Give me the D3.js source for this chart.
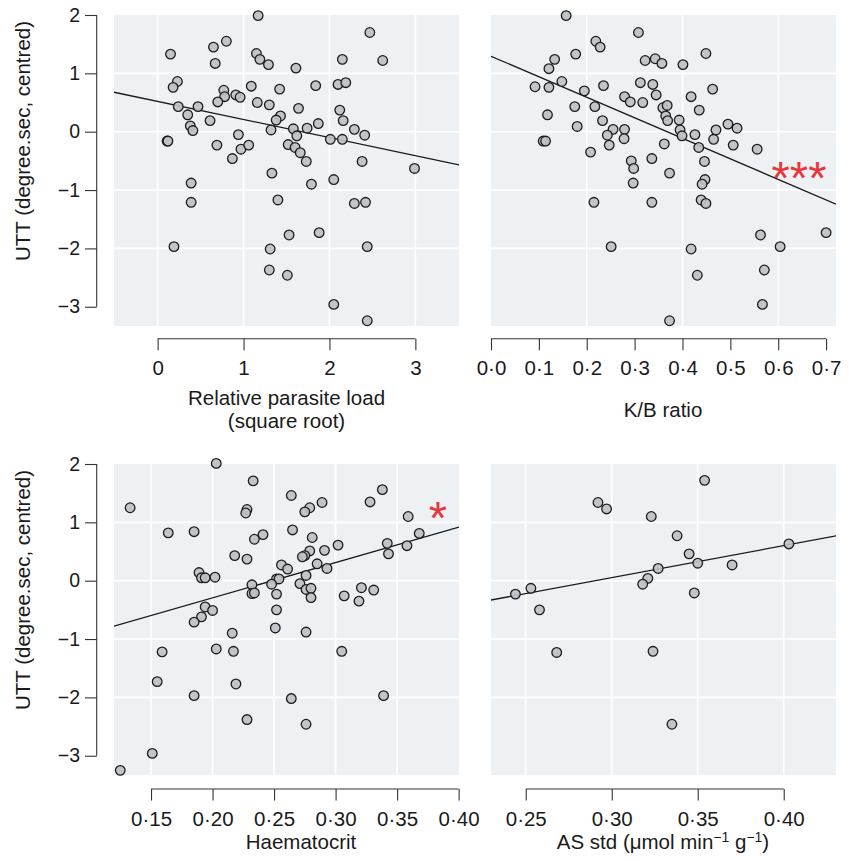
<!DOCTYPE html>
<html>
<head>
<meta charset="UTF-8">
<script src="https://cdn.jsdelivr.net/npm/d3@7"></script>
<style>
  body { margin: 0; background: #fff; }
  svg { font-family: "Liberation Sans", Arial, Helvetica, sans-serif; }
</style>
</head>
<body>
<svg id="chart" width="849" height="861"></svg>
<script>
// ---- data ----
var parasiteX = [1.17,2.47,0.15,0.65,0.80,0.67,1.15,1.19,1.29,1.61,2.15,2.62,
  0.23,0.18,0.77,0.78,0.70,0.91,0.96,1.09,1.42,1.84,2.10,2.19,
  1.16,1.30,1.64,0.24,0.47,0.35,0.61,1.43,1.38,2.12,2.16,
  0.38,0.41,1.32,1.58,1.74,1.87,2.29,2.41,1.62,
  0.11,0.12,
  0.94,0.69,0.97,1.06,1.52,1.60,1.66,1.73,2.01,2.15,
  0.87,2.38,2.99,1.33,2.05,1.79,0.39,0.39,1.40,2.29,2.42,
  1.53,1.88,0.19,1.31,2.44,1.30,1.51,2.05,2.44];
var parasiteY = [1.99,1.70,1.33,1.45,1.55,1.17,1.34,1.24,1.15,1.09,1.24,1.22,
  0.86,0.76,0.71,0.60,0.51,0.63,0.59,0.78,0.73,0.79,0.81,0.84,
  0.50,0.46,0.40,0.43,0.43,0.29,0.19,0.27,0.20,0.37,0.19,
  0.10,0.02,0.03,0.05,0.06,0.14,0.04,-0.06,-0.07,
  -0.16,-0.16,
  -0.05,-0.23,-0.30,-0.23,-0.22,-0.27,-0.36,-0.51,-0.13,-0.13,
  -0.46,-0.51,-0.63,-0.71,-0.82,-0.90,-0.88,-1.21,-1.17,-1.23,-1.21,
  -1.77,-1.73,-1.97,-2.01,-1.97,-2.37,-2.46,-2.96,-3.24];

var kbX = [0.157,0.308,0.219,0.228,0.177,0.449,0.133,0.121,0.322,0.343,0.357,0.401,
  0.092,0.121,0.148,0.195,0.235,0.312,0.338,0.463,0.345,0.279,0.291,0.317,0.418,
  0.175,0.217,0.359,0.368,0.435,0.118,0.365,0.369,0.393,0.233,
  0.180,0.255,0.279,0.243,0.395,0.399,0.470,0.495,0.514,0.426,0.465,
  0.109,0.114,0.247,0.278,0.362,0.434,0.506,0.556,0.208,
  0.336,0.293,0.298,0.446,0.373,0.297,0.447,0.441,
  0.215,0.336,0.439,0.449,0.563,0.700,0.251,0.418,0.604,0.431,0.571,0.567,0.373];
var kbY = [1.99,1.70,1.55,1.45,1.33,1.34,1.24,1.08,1.22,1.25,1.17,1.15,
  0.77,0.76,0.86,0.70,0.79,0.84,0.81,0.73,0.63,0.60,0.51,0.50,0.60,
  0.43,0.43,0.41,0.45,0.37,0.29,0.27,0.19,0.20,0.19,
  0.09,0.04,0.04,-0.06,0.03,-0.07,0.03,0.13,0.06,-0.05,-0.13,
  -0.16,-0.16,-0.23,-0.12,-0.21,-0.27,-0.23,-0.30,-0.35,
  -0.46,-0.50,-0.63,-0.51,-0.71,-0.88,-0.82,-0.90,
  -1.21,-1.21,-1.17,-1.23,-1.77,-1.73,-1.97,-2.01,-1.97,-2.46,-2.37,-2.96,-3.24];

var hctX = [0.203,0.133,0.233,0.264,0.289,0.279,0.275,0.228,0.227,0.328,0.338,0.359,
  0.164,0.185,0.241,0.234,0.265,0.281,0.368,0.302,0.291,0.279,0.342,0.358,0.343,
  0.218,0.228,0.275,0.273,0.256,0.261,0.285,0.293,
  0.189,0.191,0.194,0.202,0.252,0.254,0.276,
  0.232,0.248,0.271,0.276,0.280,0.232,0.234,0.252,0.280,0.307,0.321,0.331,0.319,
  0.194,0.200,0.191,0.185,0.252,0.251,0.276,0.216,
  0.159,0.203,0.217,0.305,0.155,0.219,0.185,0.264,0.339,0.228,0.276,0.151,0.125];
var hctY = [2.01,1.25,1.71,1.46,1.34,1.25,1.18,1.22,1.16,1.35,1.56,1.10,
  0.82,0.84,0.79,0.71,0.87,0.74,0.81,0.61,0.52,0.51,0.64,0.60,0.46,
  0.43,0.37,0.43,0.41,0.27,0.20,0.29,0.21,
  0.14,0.05,0.05,0.06,0.03,0.03,0.09,
  -0.07,-0.06,-0.05,-0.15,-0.13,-0.22,-0.21,-0.23,-0.29,-0.26,-0.12,-0.16,-0.35,
  -0.45,-0.51,-0.62,-0.71,-0.50,-0.81,-0.88,-0.90,
  -1.22,-1.17,-1.21,-1.21,-1.73,-1.77,-1.97,-2.02,-1.97,-2.38,-2.46,-2.96,-3.25];

var asX = [0.354,0.292,0.297,0.323,0.338,0.345,0.350,0.370,0.403,0.327,
  0.321,0.318,0.348,0.253,0.244,0.258,0.268,0.324,0.335];
var asY = [1.72,1.34,1.23,1.10,0.77,0.46,0.30,0.27,0.63,0.21,
  0.04,-0.06,-0.21,-0.13,-0.23,-0.50,-1.23,-1.21,-2.46];

// fitted lines: intercept and slope per panel
var fitIntercept = [0.519, 1.293, -1.503, -1.589];
var fitSlope = [-0.310, -3.517, 6.046, 5.474];
var stars = ["", "***", "*", ""];

var yTicks = [-3, -2, -1, 0, 1, 2];
var yGrid = [-2, -1, 0, 1];
var parasiteTicks = [0, 1, 2, 3];
var kbTicks = [0, 0.1, 0.2, 0.3, 0.4, 0.5, 0.6, 0.7];
var kbGrid = [0.2, 0.4, 0.6];
var hctTicks = [0.15, 0.20, 0.25, 0.30, 0.35, 0.40];
var asTicks = [0.25, 0.30, 0.35, 0.40];

var dotFmt = function(p) {
  var f = d3.format('.' + p + 'f');
  return function(d) { return f(d).replace('.', '\u00b7'); };
};

var panels = [
  {xs: parasiteX, ys: parasiteY, left: 114, top: 15, xDomain: [-0.508, 3.508],
   ticks: parasiteTicks, grid: parasiteTicks, fmt: d3.format('d'), yAxis: true,
   title: ['Relative parasite load', '(square root)'], titleX: 286.5, titleY: 405,
   star: [799, 194]},
  {xs: kbX, ys: kbY, left: 491, top: 15, xDomain: [0, 0.7207],
   ticks: kbTicks, grid: kbGrid, fmt: dotFmt(1), yAxis: false,
   title: ['K/B ratio'], titleX: 663, titleY: 417, star: [799, 194]},
  {xs: hctX, ys: hctY, left: 114, top: 464, xDomain: [0.1199, 0.4003],
   ticks: hctTicks, grid: hctTicks.slice(0, 5), fmt: dotFmt(2), yAxis: true,
   title: ['Haematocrit'], titleX: 301, titleY: 849, star: [438, 534]},
  {xs: asX, ys: asY, left: 491, top: 464, xDomain: [0.2298, 0.4304],
   ticks: asTicks, grid: asTicks, fmt: dotFmt(2), yAxis: false,
   title: null, titleX: 663, titleY: 849, star: [0, 0]}
];

var W = 345, H = 311;
var svg = d3.select('#chart');

panels.forEach(function(p, i) {
  var x = d3.scaleLinear().domain(p.xDomain).range([p.left, p.left + W]);
  var y = d3.scaleLinear().domain([-3.33, 2]).range([p.top + H, p.top]);
  var g = svg.append('g');

  g.append('clipPath').attr('id', 'clip' + i)
    .append('rect').attr('x', p.left).attr('y', p.top).attr('width', W).attr('height', H);

  g.append('rect')
    .attr('x', p.left).attr('y', p.top).attr('width', W).attr('height', H)
    .attr('fill', '#eef1f3');

  g.selectAll('.gx').data(p.grid).join('line')
    .attr('x1', function(d) { return x(d); }).attr('x2', function(d) { return x(d); })
    .attr('y1', p.top).attr('y2', p.top + H)
    .attr('stroke', '#fff').attr('stroke-width', 1.6);
  g.selectAll('.gy').data(yGrid).join('line')
    .attr('x1', p.left).attr('x2', p.left + W)
    .attr('y1', function(d) { return y(d); }).attr('y2', function(d) { return y(d); })
    .attr('stroke', '#fff').attr('stroke-width', 1.6);

  // regression line
  var x0 = p.xDomain[0], x1 = p.xDomain[1];
  g.append('line')
    .attr('clip-path', 'url(#clip' + i + ')')
    .attr('x1', x(x0)).attr('y1', y(fitIntercept[i] + fitSlope[i] * x0))
    .attr('x2', x(x1)).attr('y2', y(fitIntercept[i] + fitSlope[i] * x1))
    .attr('stroke', '#1a1a1a').attr('stroke-width', 1.3);

  g.selectAll('circle').data(d3.range(p.xs.length)).join('circle')
    .attr('cx', function(k) { return x(p.xs[k]); })
    .attr('cy', function(k) { return y(p.ys[k]); })
    .attr('r', 4.8)
    .attr('fill', '#bcc1c7').attr('fill-opacity', 0.92)
    .attr('stroke', '#1c1c1c').attr('stroke-width', 1.3);

  // x axis
  var axY = p.top + H + (p.top > 100 ? 14 : 12.8);
  var ax = g.append('g').attr('transform', 'translate(0,' + axY + ')')
    .call(d3.axisBottom(x).tickValues(p.ticks).tickFormat(p.fmt).tickSize(11.5).tickPadding(10.5));
  ax.select('.domain').remove();
  ax.append('line')
    .attr('x1', x(p.ticks[0])).attr('x2', x(p.ticks[p.ticks.length - 1]))
    .attr('stroke', '#333').attr('stroke-width', 1.1);
  ax.attr('font-size', 20.5).attr('font-family', null);
  ax.selectAll('.tick line').attr('stroke', '#333').attr('stroke-width', 1.1);
  ax.selectAll('.tick text').attr('fill', '#1a1a1a');

  // y axis on the left column
  if (p.yAxis) {
    var ay = g.append('g').attr('transform', 'translate(96.7,0)')
      .call(d3.axisLeft(y).tickValues(yTicks).tickFormat(d3.format('d')).tickSize(11.7).tickPadding(5));
    ay.select('.domain').remove();
    ay.append('line').attr('y1', y(-3)).attr('y2', y(2))
      .attr('stroke', '#333').attr('stroke-width', 1.1);
    ay.attr('font-size', 19.5).attr('font-family', null);
    ay.selectAll('.tick line').attr('stroke', '#333').attr('stroke-width', 1.1);
    ay.selectAll('.tick text').attr('fill', '#1a1a1a');

    g.append('text')
      .attr('transform', 'translate(30,' + (p.top + 126) + ') rotate(-90)')
      .attr('text-anchor', 'middle').attr('font-size', 20.5).attr('fill', '#1a1a1a')
      .text('UTT (degree.sec, centred)');
  }

  // axis title
  if (p.title) {
    p.title.forEach(function(t, j) {
      g.append('text').attr('x', p.titleX).attr('y', p.titleY + j * 22.5)
        .attr('text-anchor', 'middle').attr('font-size', 20.5).attr('fill', '#1a1a1a')
        .text(t);
    });
  } else {
    var tt = g.append('text').attr('x', p.titleX).attr('y', p.titleY)
      .attr('text-anchor', 'middle').attr('font-size', 20.5).attr('fill', '#1a1a1a');
    tt.append('tspan').text('AS std (\u03bcmol min');
    tt.append('tspan').attr('dy', -7).attr('font-size', 14).text('\u22121');
    tt.append('tspan').attr('dy', 7).text(' g');
    tt.append('tspan').attr('dy', -7).attr('font-size', 14).text('\u22121');
    tt.append('tspan').attr('dy', 7).text(')');
  }

  if (stars[i]) {
    g.append('text').attr('x', p.star[0]).attr('y', p.star[1])
      .attr('text-anchor', 'middle').attr('font-size', 47).attr('fill', '#e8363c')
      .text(stars[i]);
  }
});
</script>
</body>
</html>
